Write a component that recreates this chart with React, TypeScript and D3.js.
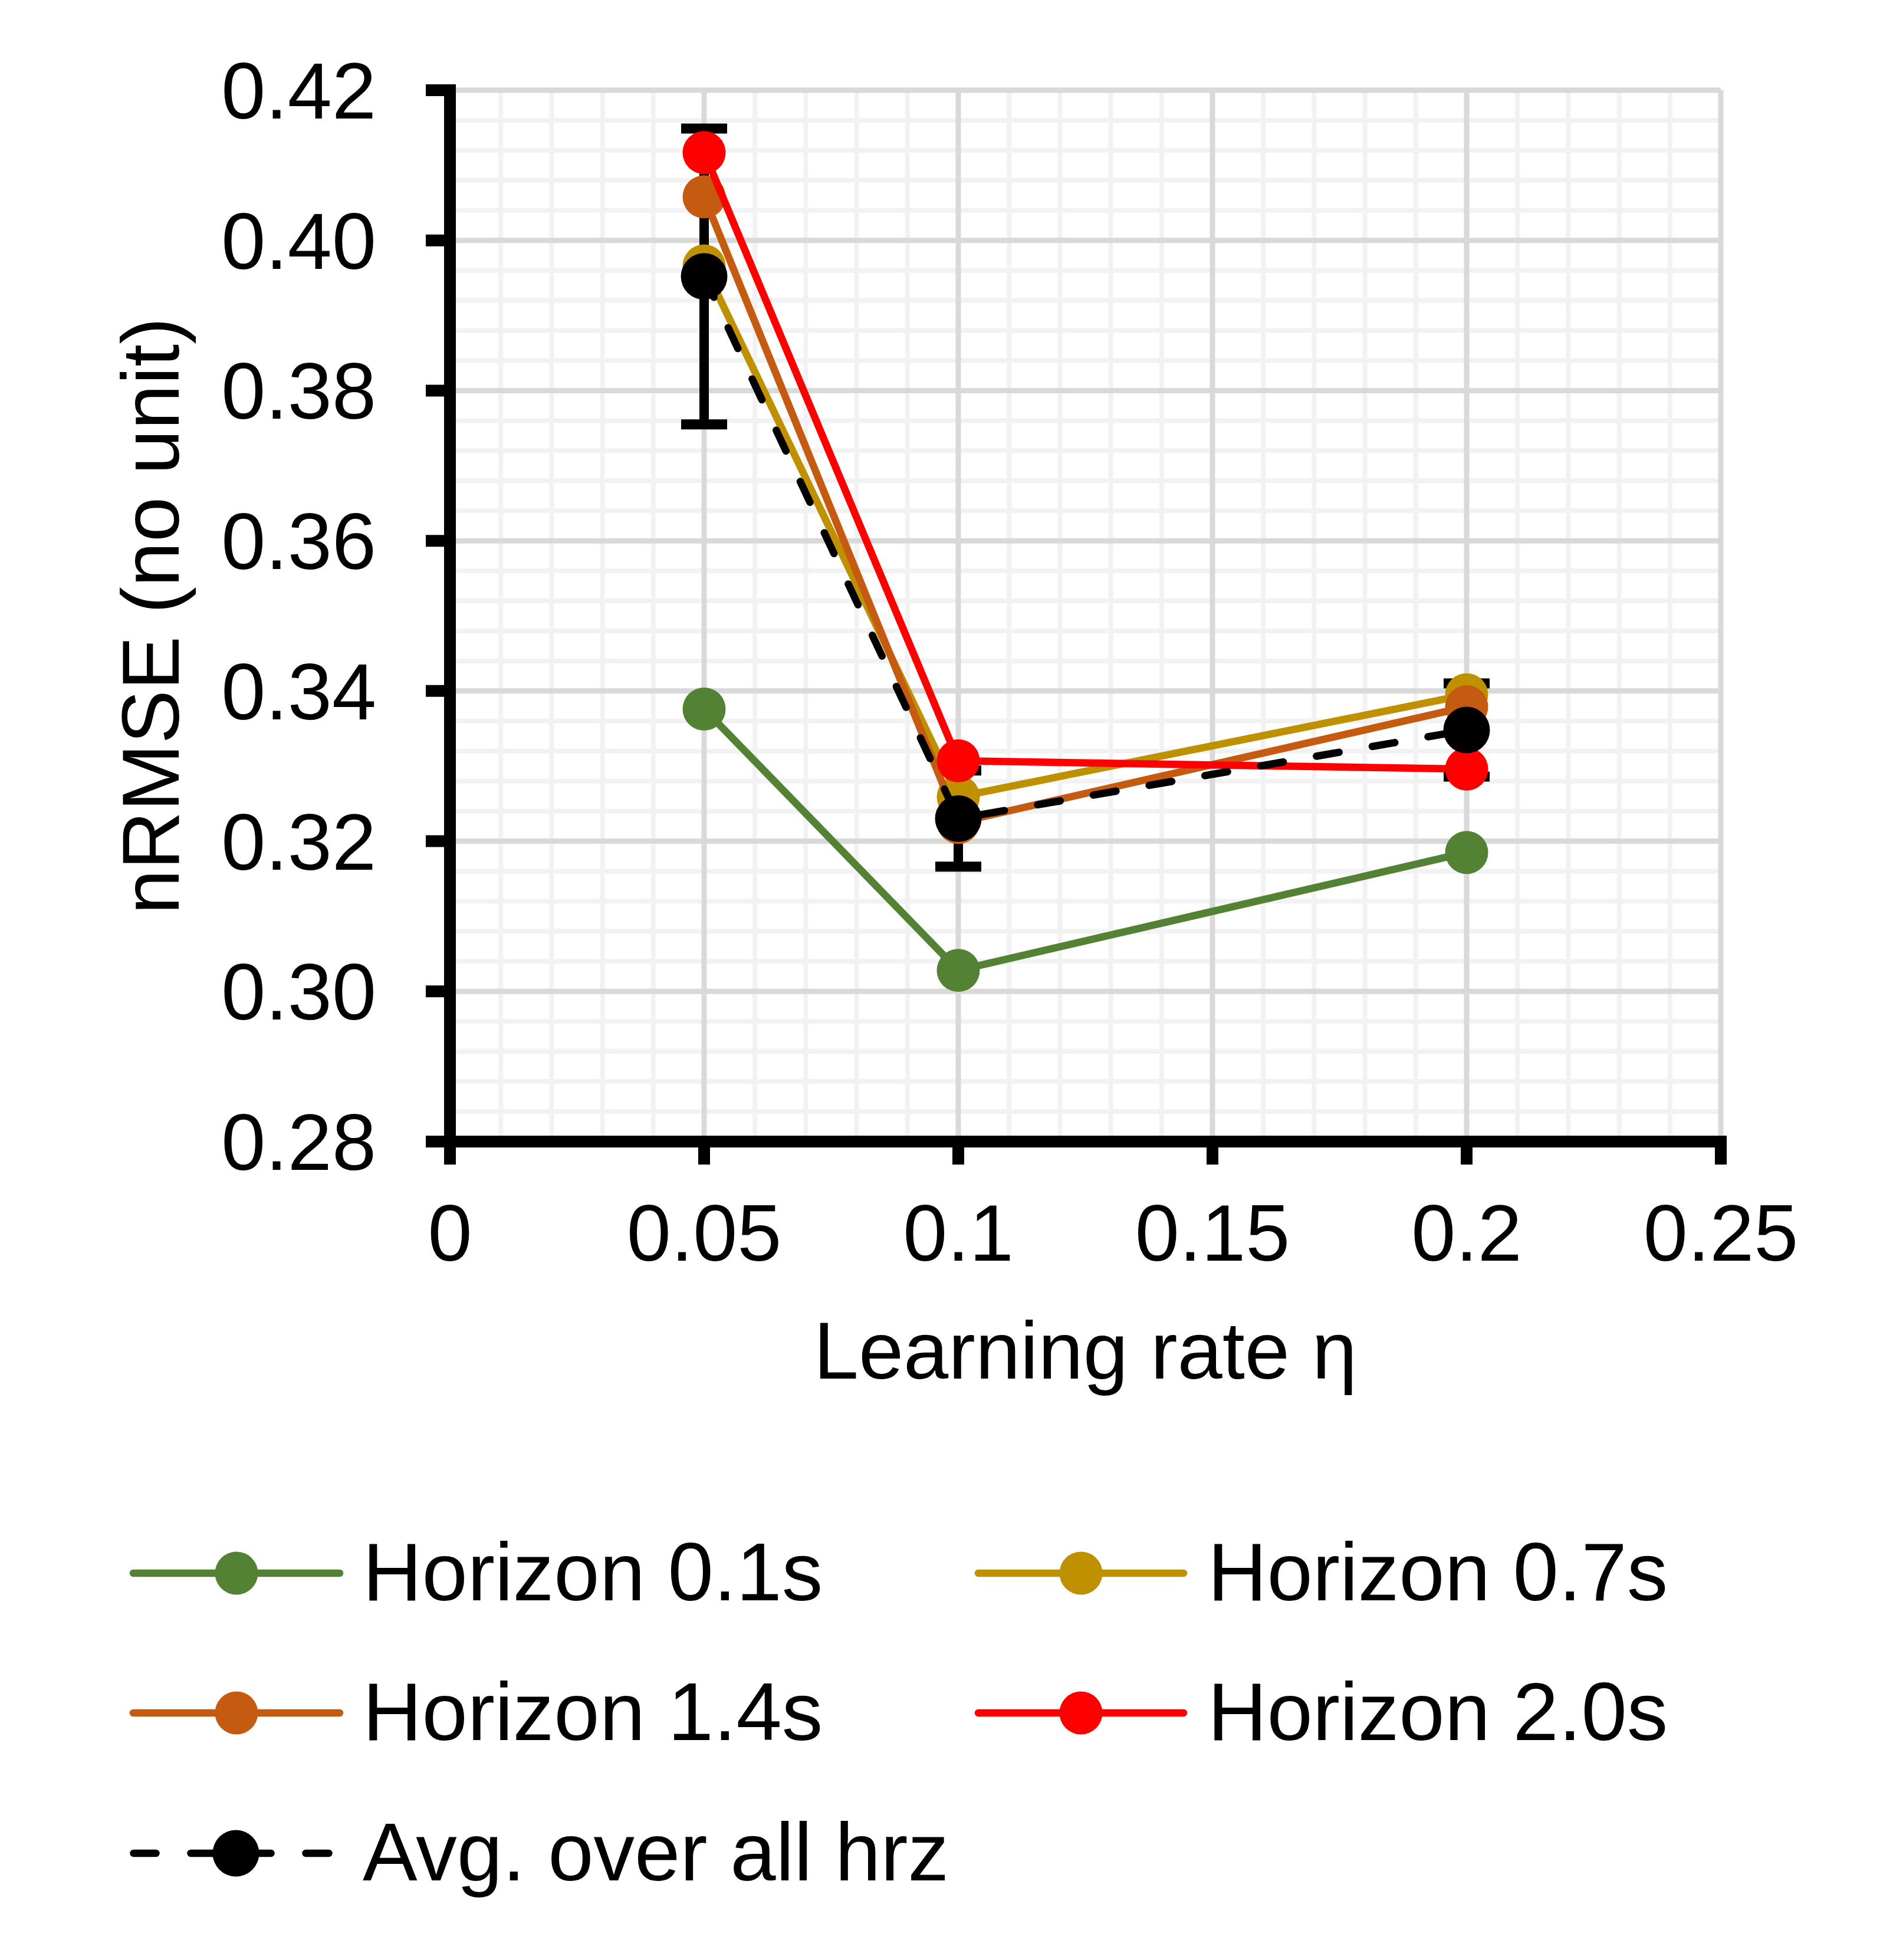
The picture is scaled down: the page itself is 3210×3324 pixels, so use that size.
import React from "react";
import * as d3 from "d3";

const xValues = [0.05, 0.1, 0.2];
const horizon01 = [0.3376, 0.3028, 0.3185];
const horizon07 = [0.3966, 0.3259, 0.3395];
const horizon14 = [0.4058, 0.3225, 0.3379];
const horizon20 = [0.4117, 0.3307, 0.3296];
const avgAll = [0.3952, 0.323, 0.3348];
const avgErr = [0.0197, 0.0064, 0.0062];

const xTicks = [0, 0.05, 0.1, 0.15, 0.2, 0.25];
const xTickLabels = ["0", "0.05", "0.1", "0.15", "0.2", "0.25"];
const yTicks = [0.28, 0.3, 0.32, 0.34, 0.36, 0.38, 0.4, 0.42];
const yTickLabels = ["0.28", "0.30", "0.32", "0.34", "0.36", "0.38", "0.40", "0.42"];

const seriesNames = ["Horizon 0.1s", "Horizon 0.7s", "Horizon 1.4s", "Horizon 2.0s", "Avg. over all hrz"];
const seriesColors = ["#548235", "#BF9000", "#C55A11", "#FF0000", "#000000"];

const W = 3210;
const H = 3324;
const FONT = "'Liberation Sans', Arial, Helvetica, sans-serif";

export default function App() {
  const x = d3.scaleLinear().domain([0, 0.25]).range([763, 2918]);
  const y = d3.scaleLinear().domain([0.28, 0.42]).range([1936, 153]);

  const series = [horizon01, horizon07, horizon14, horizon20, avgAll];
  const line = d3
    .line<number>()
    .x((_, i) => x(xValues[i]))
    .y((d) => y(d));

  const minorX = d3.range(0, 26).map((i) => i * 0.01).filter((v) => Math.round(v * 100) % 5 !== 0);
  const majorX = d3.range(0, 6).map((i) => i * 0.05);
  const minorY = d3.range(0, 36).map((i) => 0.28 + i * 0.004).filter((_, i) => i % 5 !== 0);
  const majorY = yTicks;

  const lw = 12.5;
  const axisW = 20;
  const [x0, x1] = x.range();
  const [yb, yt] = y.range();

  const legendRows = [
    { col: 0, row: 0, s: 0 },
    { col: 1, row: 0, s: 1 },
    { col: 0, row: 1, s: 2 },
    { col: 1, row: 1, s: 3 },
    { col: 0, row: 2, s: 4 },
  ];
  const legCols = [{ l: 220, r: 582, t: 615 }, { l: 1653, r: 2013, t: 2048 }];
  const legRowY = [2668, 2905, 3143];

  return (
    <svg
      width={W}
      height={H}
      viewBox={`0 0 ${W} ${H}`}
      style={{ position: "absolute", left: 0, top: 0, display: "block" }}
      fontFamily={FONT}
    >
      <rect x={0} y={0} width={W} height={H} fill="#ffffff" />
      {/* grid */}
      <g>
        {minorX.map((v) => (
          <line key={"mx" + v} x1={x(v)} x2={x(v)} y1={yt} y2={yb} stroke="#f2f2f2" strokeWidth={8} />
        ))}
        {minorY.map((v) => (
          <line key={"my" + v} x1={x0} x2={x1} y1={y(v)} y2={y(v)} stroke="#f2f2f2" strokeWidth={8} />
        ))}
        {majorX.map((v) => (
          <line key={"Mx" + v} x1={x(v)} x2={x(v)} y1={yt} y2={yb} stroke="#d9d9d9" strokeWidth={9} />
        ))}
        {majorY.map((v) => (
          <line key={"My" + v} x1={x0} x2={x1} y1={y(v)} y2={y(v)} stroke="#d9d9d9" strokeWidth={9} />
        ))}
      </g>

      {/* error bars of average */}
      <g>
        {avgAll.map((v, i) => {
          const cx = x(xValues[i]);
          const top = y(v + avgErr[i]);
          const bot = y(v - avgErr[i]);
          return (
            <g key={"eb" + i}>
              <line x1={cx} x2={cx} y1={top} y2={bot} stroke="#000" strokeWidth={16} />
              <line x1={cx - 39} x2={cx + 39} y1={top} y2={top} stroke="#000" strokeWidth={17} />
              <line x1={cx - 39} x2={cx + 39} y1={bot} y2={bot} stroke="#000" strokeWidth={17} />
            </g>
          );
        })}
      </g>

      {/* series */}
      {series.map((vals, si) => (
        <g key={"s" + si}>
          <path
            d={line(vals) || ""}
            fill="none"
            stroke={seriesColors[si]}
            strokeWidth={lw}
            strokeLinejoin="round"
            strokeLinecap="round"
            strokeDasharray={si === 4 ? "39 57" : undefined}
          />
          {vals.map((v, i) => (
            <circle key={i} cx={x(xValues[i])} cy={y(v)} r={si === 4 ? 39.5 : 36.5} fill={seriesColors[si]} />
          ))}
        </g>
      ))}

      {/* axes */}
      <g>
        <line x1={x0} x2={x0} y1={yt - 10} y2={yb + 10} stroke="#000" strokeWidth={axisW} />
        <line x1={722} x2={x1 + 10} y1={yb} y2={yb} stroke="#000" strokeWidth={axisW} />
        {yTicks.map((v) => (
          <line key={"yt" + v} x1={722} x2={x0} y1={y(v)} y2={y(v)} stroke="#000" strokeWidth={axisW} />
        ))}
        {xTicks.map((v) => (
          <line key={"xt" + v} x1={x(v)} x2={x(v)} y1={yb} y2={1975} stroke="#000" strokeWidth={axisW} />
        ))}
        {yTicks.map((v, i) => (
          <text key={"yl" + v} x={638} y={y(v) + 48} textAnchor="end" fontSize={135} fill="#000">
            {yTickLabels[i]}
          </text>
        ))}
        {xTicks.map((v, i) => (
          <text key={"xl" + v} x={x(v)} y={2138} textAnchor="middle" fontSize={135} fill="#000">
            {xTickLabels[i]}
          </text>
        ))}
        <text x={(x0 + x1) / 2} y={2338} textAnchor="middle" fontSize={137} fill="#000">
          Learning rate η
        </text>
        <text
          transform={`translate(303, ${(yt + yb) / 2}) rotate(-90)`}
          textAnchor="middle"
          fontSize={137}
          fill="#000"
        >
          nRMSE (no unit)
        </text>
      </g>

      {/* legend */}
      <g>
        {legendRows.map(({ col, row, s }) => {
          const c = legCols[col];
          const ly = legRowY[row];
          const mx = (c.l + c.r) / 2;
          const isAvg = s === 4;
          return (
            <g key={"lg" + s}>
              {isAvg ? (
                <line
                  x1={226.5}
                  x2={557.5}
                  y1={ly}
                  y2={ly}
                  stroke={seriesColors[s]}
                  strokeWidth={lw}
                  strokeLinecap="round"
                  strokeDasharray="38 59 136 59 39"
                />
              ) : (
                <line x1={c.l + 6} x2={c.r - 6} y1={ly} y2={ly} stroke={seriesColors[s]} strokeWidth={lw} strokeLinecap="round" />
              )}
              <circle cx={isAvg ? 400 : mx} cy={ly} r={isAvg ? 39.5 : 36.5} fill={seriesColors[s]} />
              <text x={c.t} y={ly + 46} fontSize={139} fill="#000">
                {seriesNames[s]}
              </text>
            </g>
          );
        })}
      </g>
    </svg>
  );
}
